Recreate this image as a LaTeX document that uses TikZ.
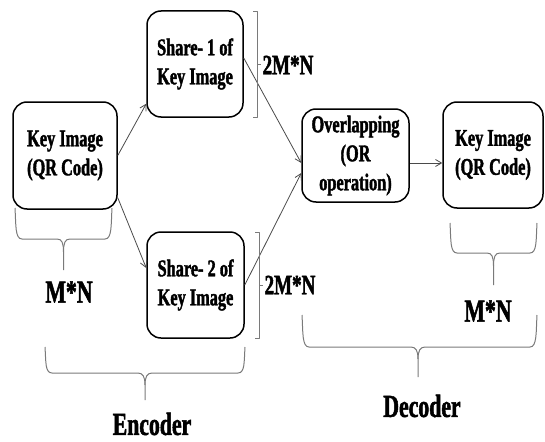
\documentclass[tikz,border=0pt]{standalone}
\usepackage{fontspec}
\usetikzlibrary{arrows.meta,calc}
\newfontfamily\lblfont{Liberation Serif}[FakeStretch=0.68,FakeBold=1.6]
\definecolor{bracegray}{HTML}{7A7A7A}
\definecolor{arrowgray}{HTML}{4A4A4A}
\begin{document}
\begin{tikzpicture}[x=1pt,y=-1pt,
  block/.style={draw=black,line width=1.5pt,rounded corners=14pt,align=center,
    font=\lblfont\bfseries\fontsize{24}{29}\selectfont,inner sep=0pt},
  flow/.style={draw=arrowgray,line width=0.8pt,-{Straight Barb[length=6pt,width=7pt]}},
  brace line/.style={draw=bracegray,line width=1pt,line join=round},
  size label/.style={font=\lblfont\bfseries\fontsize{28}{30}\selectfont,inner sep=0pt},
  big label/.style={font=\lblfont\bfseries\fontsize{32}{36}\selectfont,inner sep=0pt}]
\useasboundingbox (0,0) rectangle (545,441);

% processing blocks
\node[block,minimum width=104pt,minimum height=107pt] (k1) at (65,155.5) {Key Image\\(QR Code)};
\node[block,minimum width=96pt,minimum height=106pt] (s1) at (195,64) {Share- 1 of\\Key Image};
\node[block,minimum width=97pt,minimum height=106pt] (s2) at (195.5,285) {Share- 2 of\\Key Image};
\node[block,minimum width=107pt,minimum height=93pt] (ov) at (355.5,155.5) {Overlapping\\(OR\\operation)};
\node[block,minimum width=100pt,minimum height=106pt] (k2) at (493,155) {Key Image\\(QR Code)};

% data flow
\draw[flow] (k1.east) -- ($(s1.south west)+(0,-14)$);
\draw[flow] ($(k1.south east)+(0,-12)$) -- ($(s2.west)+(0,-17)$);
\draw[flow] ($(s1.east)+(0,-6)$) -- ($(ov.west)+(0,7.5)$);
\draw[flow] (s2.east) -- ($(ov.west)+(0,17.5)$);
\draw[flow] ($(ov.east)+(0,7.5)$) -- ($(k2.west)+(0,8)$);

% size brackets beside the shares
\draw[brace line] (253,12) -- (257,12) -- (257,117) -- (253,117);
\draw[brace line] (257,65) -- (261,65);
\draw[brace line] (255,232) -- (259,232) -- (259,338) -- (255,338);
\draw[brace line] (259,285) -- (263,285);

% under-braces
\draw[brace line] (15,208) .. controls (16,225) and (15,239) .. (22,239) -- (57,239)
  .. controls (62,239) and (63.5,243) .. (63.5,252) -- (63.5,270);
\draw[brace line] (112,208) .. controls (111,225) and (112,239) .. (105,239) -- (70,239)
  .. controls (65,239) and (63.5,243) .. (63.5,252);
\draw[brace line] (450,223) .. controls (451,240) and (450,253) .. (457,253) -- (487,253)
  .. controls (492,253) and (493.5,257) .. (493.5,266) -- (493.5,285);
\draw[brace line] (537,223) .. controls (536,240) and (537,253) .. (530,253) -- (500,253)
  .. controls (495,253) and (493.5,257) .. (493.5,266);
\draw[brace line] (45,347) .. controls (46,362) and (45,373) .. (52,373) -- (138,373)
  .. controls (143,373) and (145,377) .. (145,385) -- (145,400);
\draw[brace line] (245,347) .. controls (244,362) and (245,373) .. (238,373) -- (152,373)
  .. controls (147,373) and (145,377) .. (145,385);
\draw[brace line] (302,315) .. controls (303,332) and (302,347) .. (309,347) -- (411,347)
  .. controls (416,347) and (418,351) .. (418,359) -- (418,377);
\draw[brace line] (537,315) .. controls (536,332) and (537,347) .. (530,347) -- (425,347)
  .. controls (420,347) and (418,351) .. (418,359);

% size and role labels
\node[size label] (sz1) at (288,65) {2M*N};
\node[size label] (sz2) at (290,285) {2M*N};
\node[big label] (mn1) at (69,292) {M*N};
\node[big label] (mn2) at (488,311) {M*N};
\node[big label] (enc) at (152,424) {Encoder};
\node[big label] (dec) at (422,406) {Decoder};
\end{tikzpicture}
\end{document}
